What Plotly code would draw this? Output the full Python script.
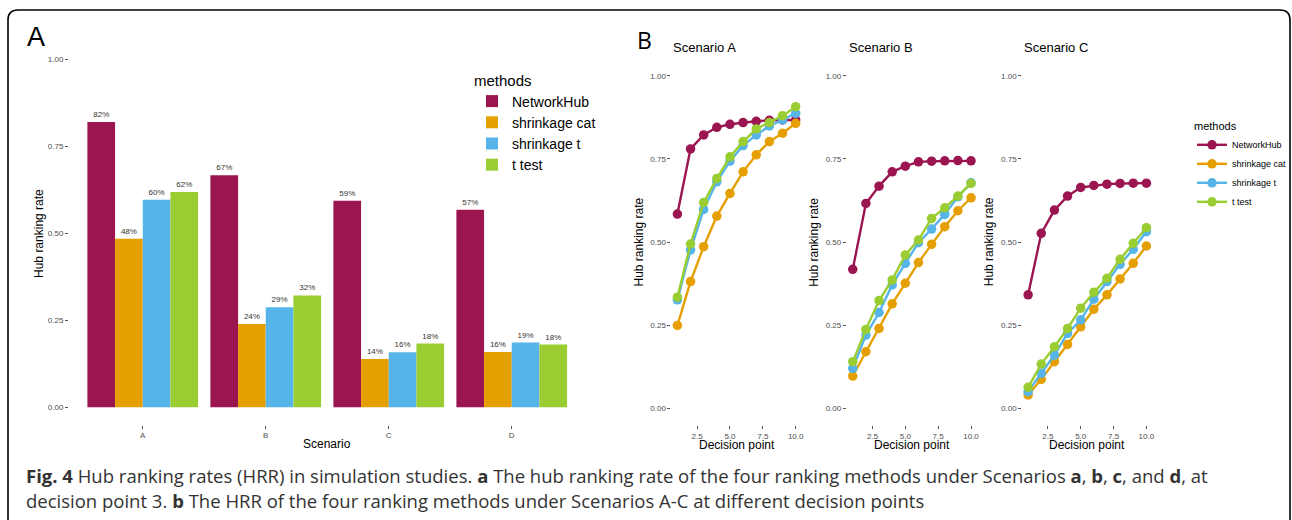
import plotly.graph_objects as go

W, H = 1292, 520

methods = ["NetworkHub", "shrinkage cat", "shrinkage t", "t test"]
colors = ["#9B1651", "#E69F00", "#56B4E9", "#9ACD32"]
scenarios = ["A", "B", "C", "D"]

# Panel A: hub ranking rate at decision point 3
hrr_networkhub = [0.819, 0.666, 0.593, 0.567]
hrr_shrink_cat = [0.484, 0.239, 0.139, 0.159]
hrr_shrink_t = [0.596, 0.287, 0.158, 0.186]
hrr_t_test = [0.618, 0.321, 0.183, 0.180]
bar_values = [hrr_networkhub, hrr_shrink_cat, hrr_shrink_t, hrr_t_test]

# Panel B: HRR by decision point
decision_points = [1, 2, 3, 4, 5, 6, 7, 8, 9, 10]
scenB_titles = ["Scenario A", "Scenario B", "Scenario C"]
sA_networkhub = [0.584, 0.780, 0.822, 0.845, 0.854, 0.859, 0.863, 0.866, 0.867, 0.867]
sA_shrink_cat = [0.249, 0.381, 0.486, 0.578, 0.646, 0.711, 0.762, 0.802, 0.827, 0.857]
sA_shrink_t = [0.326, 0.476, 0.598, 0.681, 0.743, 0.790, 0.822, 0.849, 0.867, 0.887]
sA_t_test = [0.334, 0.494, 0.619, 0.691, 0.756, 0.802, 0.840, 0.859, 0.880, 0.907]
sB_networkhub = [0.418, 0.616, 0.668, 0.711, 0.728, 0.741, 0.743, 0.744, 0.745, 0.744]
sB_shrink_cat = [0.097, 0.170, 0.240, 0.314, 0.376, 0.438, 0.493, 0.546, 0.594, 0.633]
sB_shrink_t = [0.120, 0.220, 0.288, 0.371, 0.436, 0.498, 0.539, 0.583, 0.636, 0.678]
sB_t_test = [0.140, 0.237, 0.324, 0.386, 0.461, 0.506, 0.571, 0.603, 0.638, 0.676]
sC_networkhub = [0.341, 0.526, 0.596, 0.638, 0.664, 0.670, 0.674, 0.676, 0.677, 0.677]
sC_shrink_cat = [0.040, 0.087, 0.140, 0.192, 0.245, 0.298, 0.341, 0.389, 0.436, 0.488]
sC_shrink_t = [0.050, 0.105, 0.160, 0.225, 0.266, 0.328, 0.381, 0.433, 0.478, 0.531]
sC_t_test = [0.063, 0.133, 0.185, 0.240, 0.301, 0.349, 0.391, 0.448, 0.496, 0.543]
line_series = [
    [sA_networkhub, sA_shrink_cat, sA_shrink_t, sA_t_test],
    [sB_networkhub, sB_shrink_cat, sB_shrink_t, sB_t_test],
    [sC_networkhub, sC_shrink_cat, sC_shrink_t, sC_t_test],
]

y_ticks = [0, 0.25, 0.5, 0.75, 1.0]
y_ticktext = ["0.00", "0.25", "0.50", "0.75", "1.00"]
x_ticks_b = [2.5, 5.0, 7.5, 10.0]
x_ticktext_b = ["2.5", "5.0", "7.5", "10.0"]


def fx(p):
    return p / W


def fy(p):
    return 1 - p / H


FONT = "Liberation Sans, Arial, sans-serif"
TICKFONT = dict(family=FONT, size=8, color="#4D4D4D")

fig = go.Figure()

for m, vals, c in zip(methods, bar_values, colors):
    fig.add_trace(go.Bar(
        x=scenarios, y=vals, name=m, marker=dict(color=c, line=dict(width=0)),
        text=[f"{round(v * 100)}%" for v in vals], textposition="outside",
        textfont=dict(family=FONT, size=8, color="#333333"), cliponaxis=False,
        xaxis="x", yaxis="y", legend="legend",
    ))

for i, series in enumerate(line_series):
    ax = str(i + 2)
    for m, vals, c in zip(methods, series, colors):
        fig.add_trace(go.Scatter(
            x=decision_points, y=vals, name=m, mode="lines+markers",
            line=dict(color=c, width=2.4), marker=dict(color=c, size=9.5),
            xaxis="x" + ax, yaxis="y" + ax, legend="legend2",
            showlegend=(i == 0), cliponaxis=False,
        ))

common_axis = dict(showgrid=False, zeroline=False, showline=False, ticks="outside",
                   ticklen=3, tickcolor="#555555", tickfont=TICKFONT)

layout = dict(
    width=W, height=H, margin=dict(l=0, r=0, t=0, b=0),
    paper_bgcolor="white", plot_bgcolor="white",
    barmode="group", bargap=0.1, bargroupgap=0,
    font=dict(family=FONT, color="black"),
    xaxis=dict(domain=[fx(69), fx(586)], type="category", range=[-0.6, 3.6], **common_axis),
    yaxis=dict(domain=[fy(424.7), fy(41.6)], range=[-0.05, 1.05], tickvals=y_ticks,
               ticktext=y_ticktext, anchor="x", **common_axis),
    legend=dict(x=fx(472), y=fy(66), xanchor="left", yanchor="top",
                title=dict(text="methods", font=dict(family=FONT, size=15)),
                font=dict(family=FONT, size=14), bgcolor="rgba(0,0,0,0)",
                tracegroupgap=0),
    legend2=dict(x=fx(1193), y=fy(116), xanchor="left", yanchor="top",
                 title=dict(text="methods", font=dict(family=FONT, size=11)),
                 font=dict(family=FONT, size=9), bgcolor="rgba(0,0,0,0)"),
    showlegend=True,
)

b_lefts = [672, 847.5, 1023]
b_width = 130.2
for i, left in enumerate(b_lefts):
    ax = str(i + 2)
    layout["xaxis" + ax] = dict(domain=[fx(left), fx(left + b_width)], range=[0.55, 10.45],
                                tickvals=x_ticks_b, ticktext=x_ticktext_b, anchor="y" + ax,
                                **common_axis)
    layout["yaxis" + ax] = dict(domain=[fy(424.9), fy(59.1)], range=[-0.05, 1.05],
                                tickvals=y_ticks, ticktext=y_ticktext, anchor="x" + ax,
                                **common_axis)

fig.update_layout(**layout)

ann = []
ann.append(dict(text="A", x=fx(36), y=fy(37), font=dict(family=FONT, size=27)))
ann.append(dict(text="B", x=fx(645), y=fy(40), font=dict(family="Open Sans, sans-serif", size=23)))
ann.append(dict(text="Hub ranking rate", x=fx(39), y=fy(233), textangle=-90,
                font=dict(family=FONT, size=12)))
ann.append(dict(text="Scenario", x=fx(327.5), y=fy(444), font=dict(family=FONT, size=12)))
for i, left in enumerate(b_lefts):
    ann.append(dict(text=scenB_titles[i], x=fx(left), y=fy(47), xanchor="left",
                    font=dict(family=FONT, size=13)))
    ann.append(dict(text="Hub ranking rate", x=fx(left - 33), y=fy(242), textangle=-90,
                    font=dict(family=FONT, size=12)))
    ann.append(dict(text="Decision point", x=fx(left + b_width / 2), y=fy(445),
                    font=dict(family=FONT, size=12)))

CAP = "Open Sans, sans-serif"
ann.append(dict(text="<b>Fig. 4</b> Hub ranking rates (HRR) in simulation studies. <b>a</b> The hub ranking rate "
                "of the four ranking methods under Scenarios <b>a</b>, <b>b</b>, <b>c</b>, and <b>d</b>, at",
                x=fx(24), y=fy(475), xanchor="left", font=dict(family=CAP, size=18.5, color="#333333")))
ann.append(dict(text="decision point 3. <b>b</b> The HRR of the four ranking methods under Scenarios A-C "
                "at different decision points",
                x=fx(24), y=fy(500), xanchor="left", font=dict(family=CAP, size=18.5, color="#333333")))

for a in ann:
    a.setdefault("xref", "paper")
    a.setdefault("yref", "paper")
    a.setdefault("showarrow", False)
    a.setdefault("xanchor", "center")
    a.setdefault("yanchor", "middle")
fig.update_layout(annotations=ann)

# outer rounded frame
r = 10
path = (f"M {fx(8)},{fy(530)} L {fx(8)},{fy(10 + r)} Q {fx(8)},{fy(10)} {fx(8 + r)},{fy(10)} "
        f"L {fx(1291 - r)},{fy(10)} Q {fx(1291)},{fy(10)} {fx(1291)},{fy(10 + r)} L {fx(1291)},{fy(530)}")
fig.update_layout(shapes=[dict(type="path", xref="paper", yref="paper", path=path,
                               line=dict(color="black", width=1.6))])

fig.write_html("out.html", config={"displayModeBar": False},
               post_script="document.body.style.margin='0px';")
